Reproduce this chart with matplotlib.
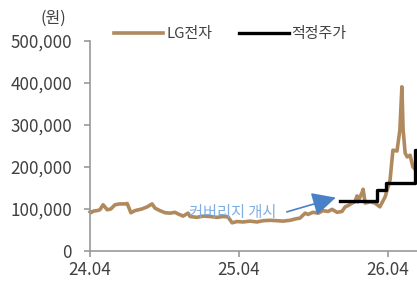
import matplotlib
matplotlib.use('Agg')

import matplotlib.pyplot as plt
import matplotlib.dates as mdates
import matplotlib.ticker as mticker
import pandas as pd

plt.rcParams['font.family'] = ['Noto Sans CJK KR', 'DejaVu Sans']

# LG전자 주가 (원)
price_dates = [
    '2024-04-01', '2024-04-03', '2024-04-10', '2024-04-18', '2024-04-25', '2024-05-03',
    '2024-05-13', '2024-05-22', '2024-06-01', '2024-06-13', '2024-06-26', '2024-07-01',
    '2024-07-10', '2024-07-20', '2024-08-06', '2024-08-19', '2024-08-31', '2024-09-07',
    '2024-09-19', '2024-10-02', '2024-10-14', '2024-10-26', '2024-11-03', '2024-11-15',
    '2024-11-27', '2024-12-02', '2024-12-19', '2025-01-03', '2025-01-20', '2025-02-06',
    '2025-02-21', '2025-03-05', '2025-03-15', '2025-03-27', '2025-04-11', '2025-04-28',
    '2025-05-15', '2025-05-30', '2025-06-16', '2025-07-03', '2025-07-18', '2025-08-04',
    '2025-08-16', '2025-08-21', '2025-08-28', '2025-09-10', '2025-09-17', '2025-09-29',
    '2025-10-12', '2025-10-24', '2025-11-05', '2025-11-15', '2025-11-27', '2025-12-09',
    '2025-12-17', '2025-12-24', '2026-01-03', '2026-01-10', '2026-01-15', '2026-01-17',
    '2026-01-27', '2026-01-30', '2026-02-04', '2026-02-16', '2026-02-28', '2026-03-12',
    '2026-03-25', '2026-04-06', '2026-04-13', '2026-04-23', '2026-04-30', '2026-05-05',
    '2026-05-08', '2026-05-13', '2026-05-18', '2026-05-25', '2026-06-01', '2026-06-06',
    '2026-06-11',
]
price_values = [
    93000, 91000, 95000, 96000, 98000, 110000,
    98000, 100000, 110000, 112000, 112000, 113000,
    91000, 96000, 100000, 105000, 112000, 102000,
    96000, 91000, 90000, 92000, 88000, 83000,
    90000, 82000, 80000, 83000, 82000, 80000,
    82000, 81000, 67000, 70000, 69000, 71000,
    69000, 72000, 73000, 72000, 71000, 73000,
    76000, 77000, 78000, 90000, 87000, 92000,
    90000, 96000, 94000, 99000, 92000, 94000,
    105000, 108000, 114000, 117000, 131000, 117000,
    138000, 147000, 114000, 117000, 114000, 105000,
    129000, 169000, 240000, 238000, 288000, 391000,
    288000, 233000, 224000, 228000, 200000, 195000,
    190000,
]

# 적정주가 (원), step line
target_dates = ['2025-12-05', '2026-03-04', '2026-03-26', '2026-06-05', '2026-06-11']
target_values = [120000, 145000, 161000, 240000, 240000]

y_ticks = [0, 100000, 200000, 300000, 400000, 500000]
x_ticks = ['2024-04-01', '2025-04-01', '2026-04-01']

brown = '#B08A5E'
text_col = '#404040'
spine_col = '#999999'

fig = plt.figure(figsize=(4.17, 2.81), dpi=100)
ax = fig.add_axes([0.216, 0.107, 0.784, 0.747])

ax.plot(pd.to_datetime(price_dates), price_values, color=brown, lw=2.6,
        solid_joinstyle='round', label='LG전자', clip_on=False)
ax.step(pd.to_datetime(target_dates), target_values, where='post', color='black',
        lw=2.4, label='적정주가')

ax.set_xlim(pd.Timestamp('2024-04-01'), pd.Timestamp('2026-06-11'))
ax.set_ylim(0, 500000)
ax.set_yticks(y_ticks)
ax.yaxis.set_major_formatter(mticker.FuncFormatter(lambda v, p: f'{int(v):,}'))
ax.set_xticks(pd.to_datetime(x_ticks))
ax.xaxis.set_major_formatter(mdates.DateFormatter('%y.%m'))

for s in ['top', 'right']:
    ax.spines[s].set_visible(False)
for s in ['left', 'bottom']:
    ax.spines[s].set_color(spine_col)
    ax.spines[s].set_linewidth(1.2)
ax.tick_params(axis='both', colors=spine_col, labelcolor=text_col, labelsize=12.3,
               length=4, width=1.2)
ax.tick_params(axis='y', pad=9)
ax.tick_params(axis='x', pad=3)

fig.text(0.127, 0.935, '(원)', ha='center', va='center', fontsize=11.5, color=text_col)

ax.text(pd.Timestamp('2025-03-17'), 90500, '커버리지 개시', ha='center', va='center',
        fontsize=11, color='#7FAEE0')
ax.annotate('', xy=(pd.Timestamp('2025-11-24'), 127000),
            xytext=(pd.Timestamp('2025-07-27'), 93000),
            arrowprops=dict(arrowstyle='-|>,head_length=0.6,head_width=0.3',
                            color='#4A80C8', lw=1.2,
                            mutation_scale=24, shrinkA=0, shrinkB=0))

fig.legend(loc='center', bbox_to_anchor=(0.552, 0.879), ncol=2, frameon=False,
           fontsize=10.8, handlelength=3.3, handletextpad=0.2, columnspacing=1.8,
           labelcolor=text_col)

fig.savefig('out.png', dpi=100)
